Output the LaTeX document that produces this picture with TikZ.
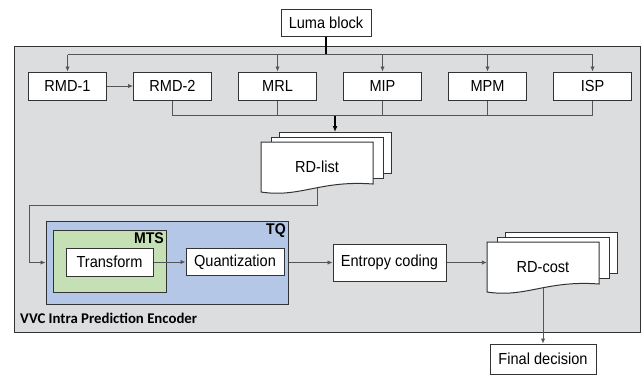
\documentclass[tikz,border=0pt]{standalone}
\usepackage{fontspec}
\setmainfont[FakeStretch=0.91]{Liberation Sans}
\newfontfamily\calibrifont{Carlito}
\usetikzlibrary{arrows.meta, positioning, calc}
\definecolor{frame}{HTML}{333333}
\definecolor{wirecol}{HTML}{555555}
\definecolor{encfill}{HTML}{DCDDDF}
\definecolor{tqfill}{HTML}{B4C7E7}
\definecolor{mtsfill}{HTML}{C5E0B4}
\tikzset{
  block/.style={
    draw=frame, fill=white, line width=1pt,
    minimum width=78pt, minimum height=28pt,
    font=\fontsize{16}{18}\selectfont, inner sep=2pt
  },
  sheet/.style={draw=frame, fill=white, line width=1pt},
  wire/.style={draw=wirecol, line width=0.9pt},
  warrow/.style={-{Latex[length=5pt, width=4.5pt]}, wire},
  barrow/.style={-{Latex[length=6pt, width=5pt]}, line width=1.8pt, black},
  tag/.style={font=\fontsize{15.5}{17}\selectfont\bfseries, inner sep=2.5pt, anchor=north east}
}
% stacked document: name, centre of front sheet, text
\newcommand{\docstack}[3]{%
  \coordinate (#1-c) at (#2);
  \draw[sheet] ($(#1-c)+(-38,-35)$) rectangle ++(112,41);
  \draw[sheet] ($(#1-c)+(-46,-30)$) rectangle ++(112,41);
  \draw[sheet] ($(#1-c)+(-56,-25)$) -- ($(#1-c)+(56,-25)$) -- ($(#1-c)+(56,17)$)
    .. controls ($(#1-c)+(3,13)$) and ($(#1-c)+(-17,31)$) .. ($(#1-c)+(-56,25)$) -- cycle;
  \node[minimum width=112pt, minimum height=50pt, inner sep=0pt,
        font=\fontsize{16}{18}\selectfont] (#1) at (#1-c) {#3};
  \coordinate (#1-foot) at ($(#1-c)+(0,21)$);
  \coordinate (#1-top) at ($(#1-c)+(18,-35)$);
}

\begin{document}
\begin{tikzpicture}[x=1pt, y=-1pt, node distance=26pt]
  \useasboundingbox (0,0) rectangle (644,376);

  % Encoder frame
  \draw[draw=frame, fill=encfill, line width=1pt] (14,46) rectangle (640,332);
  \node[font=\calibrifont\fontsize{14.8}{16}\selectfont\bfseries, anchor=base west, inner sep=0pt]
    (enclabel) at (20,323) {VVC Intra Prediction Encoder};

  % Input
  \node[block, minimum width=90pt, minimum height=27pt] (luma) at (326,22.5) {Luma block};

  % Mode candidates
  \node[block] (rmd1) at (67.5,86) {RMD-1};
  \node[block, right=of rmd1] (rmd2) {RMD-2};
  \node[block, right=of rmd2] (mrl) {MRL};
  \node[block, right=of mrl] (mip) {MIP};
  \node[block, right=of mip] (mpm) {MPM};
  \node[block, right=of mpm] (isp) {ISP};

  % Fan-out from luma block
  \path (luma.south) ++(0,18) coordinate (fork);
  \draw[line width=1.8pt] (luma.south) -- (fork);
  \draw[wire] (rmd1.north |- fork) -- (isp.north |- fork);
  \foreach \m in {rmd1, mrl, mip, mpm, isp}
    \draw[warrow] (\m.north |- fork) -- (\m.north);
  \draw[warrow] (rmd1) -- (rmd2);

  % RD-list
  \docstack{rdlist}{317,167}{RD-list}

  % Collect candidates
  \path (mip.south) ++(0,15) coordinate (join);
  \draw[wire] (rmd2.south |- join) -- (isp.south |- join);
  \foreach \m in {rmd2, mrl, mip, mpm, isp}
    \draw[wire] (\m.south) -- (\m.south |- join);
  \draw[barrow] (rdlist-top |- join) -- (rdlist-top);

  % TQ and MTS
  \node[draw=frame, fill=tqfill, line width=1pt, minimum width=242pt, minimum height=83pt]
    (tq) at (167,262.5) {};
  \node[tag] (tqlabel) at (tq.north east) {TQ};
  \node[draw=frame, fill=mtsfill, line width=1pt, minimum width=113pt, minimum height=62pt]
    (mts) at (109.5,261) {};
  \node[tag] (mtslabel) at (mts.north east) {MTS};
  \node[block, minimum width=87pt] (trans) at (109.5,262) {Transform};
  \node[block, minimum width=98pt, minimum height=27pt] (quant) at (235,262) {Quantization};
  \node[block, minimum width=113pt, minimum height=37pt] (entropy) at (389.5,262.5) {Entropy coding};

  % RD-cost and decision
  \docstack{rdcost}{543,267}{RD-cost}
  \node[block, minimum width=106pt, minimum height=30pt] (final) at (543,359) {Final decision};

  % Flow
  \coordinate (bend) at (29,205);
  \draw[wire] (rdlist-foot) -- (rdlist-foot |- bend) -- (bend);
  \draw[warrow] (bend) |- (tq.west);
  \draw[warrow] (trans) -- (quant);
  \draw[warrow] (tq.east |- entropy) -- (entropy);
  \draw[warrow] (entropy) -- (rdcost.west |- entropy);
  \draw[warrow] (rdcost-foot) -- (final.north);
\end{tikzpicture}
\end{document}
